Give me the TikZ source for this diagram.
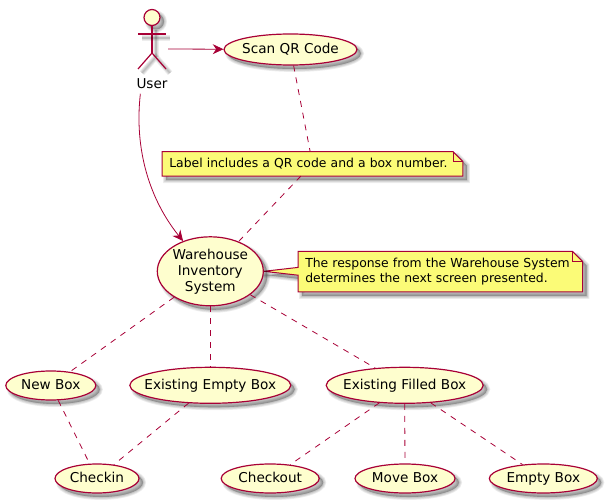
\documentclass[tikz,border=0pt]{standalone}
\usepackage{fontspec}
\setmainfont{DejaVu Sans}
\usetikzlibrary{calc,shapes.geometric,arrows.meta,backgrounds}

\definecolor{umlline}{HTML}{A80036}
\definecolor{umlfill}{HTML}{FEFECE}
\definecolor{notefill}{HTML}{FBFB77}

\tikzset{
  softshadow/.style={
    preaction={draw=black,fill=#1,opacity=.07,line width=4.4pt,transform canvas={shift={(3pt,-3pt)}}},
    preaction={draw=black,fill=#1,opacity=.07,line width=3.2pt,transform canvas={shift={(3pt,-3pt)}}},
    preaction={draw=black,fill=#1,opacity=.07,line width=2pt,transform canvas={shift={(3pt,-3pt)}}},
    preaction={draw=black,fill=#1,opacity=.07,line width=.8pt,transform canvas={shift={(3pt,-3pt)}}}},
  softshadow/.default=black,
  usecase/.style 2 args={ellipse,draw=umlline,fill=umlfill,line width=.9pt,inner sep=0pt,
    minimum width=#1*.75pt,minimum height=#2*.75pt,softshadow},
  uclabel/.style={label={[text height=8pt,text depth=2pt,inner sep=0pt]center:#1}},
  notetext/.style={inner ysep=0pt,inner xsep=5.2pt,font=\fontsize{9.3pt}{11.25pt}\selectfont,align=left,text width=#1*.75pt},
  notebox/.style={draw=umlline,fill=notefill,line width=.75pt,softshadow},
  actorline/.style={draw=umlline,line width=.9pt,softshadow=none},
  assoc/.style={draw=umlline,line width=.6pt,dash pattern=on 4.5pt off 4.5pt},
  link/.style={draw=umlline,line width=.6pt,-{Stealth[length=8pt,width=7.5pt,inset=2.6pt]}}
}

\begin{document}
\begin{tikzpicture}[x=.75pt,y=-.75pt,font=\fontsize{10.2pt}{12pt}\selectfont]
\useasboundingbox (0,0) rectangle (607,503);

% Actor
\node[circle,draw=umlline,fill=umlfill,line width=.9pt,inner sep=0pt,minimum size=12pt,softshadow] (userhead) at (152,17.5) {};
\coordinate (userhip) at (152,53);
\coordinate (userhand) at (168,49);
\draw[actorline] (userhead) -- (userhip);
\draw[actorline] (138,34) -- (166,34);
\draw[actorline] (138,69) -- (userhip) -- (166,69);
\node (user) at (152,84) {User};

% Use cases
\node[usecase={133}{31},uclabel={Scan QR Code}] (scan) at (290.5,49.5) {};
\node[usecase={106}{69},label={[align=center,inner sep=0pt]center:Warehouse\\Inventory\\System}] (warehouse) at (210.3,271.3) {};
\node[usecase={90}{29},uclabel={New Box}] (newbox) at (50.8,385.5) {};
\node[usecase={161}{36},uclabel={Existing Empty Box}] (emptybox) at (210.3,385.3) {};
\node[usecase={157}{36},uclabel={Existing Filled Box}] (filledbox) at (404.7,385.3) {};
\node[usecase={84}{29},uclabel={Checkin}] (checkin) at (97,478.5) {};
\node[usecase={98}{29},uclabel={Checkout}] (checkout) at (270.2,478.5) {};
\node[usecase={100}{29},uclabel={Move Box}] (movebox) at (405,478.5) {};
\node[usecase={108}{29},uclabel={Empty Box}] (discardbox) at (543.3,478.5) {};

% Notes
\node[notetext=286.5,minimum height=18pt] (notelabel) at (312.5,163.8) {Label includes a QR code and a box number.};
\node[notetext=270,minimum height=30pt] (noteresponse) at (440.3,271.7) {The response from the Warehouse System\\determines the next screen presented.};

\begin{scope}[on background layer]
\draw[notebox] (notelabel.south west) -- (notelabel.north west) -- ($(notelabel.north east)+(-10,0)$) -- ($(notelabel.north east)+(0,10)$) -- (notelabel.south east) -- cycle;
\draw[notebox] (noteresponse.south west) -- ($(noteresponse.west)+(0,3.5)$) -- (warehouse.east) -- ($(noteresponse.west)+(0,-4.3)$) -- (noteresponse.north west) -- ($(noteresponse.north east)+(-10,0)$) -- ($(noteresponse.north east)+(0,10)$) -- (noteresponse.south east) -- cycle;
\end{scope}
\draw[draw=umlline,line width=.6pt] ($(notelabel.north east)+(-10,0)$) -- ($(notelabel.north east)+(-10,10)$) -- ($(notelabel.north east)+(0,10)$);
\draw[draw=umlline,line width=.6pt] ($(noteresponse.north east)+(-10,0)$) -- ($(noteresponse.north east)+(-10,10)$) -- ($(noteresponse.north east)+(0,10)$);

% Connectors
\draw[link] (userhand) -- (scan);
\draw[link] (user.220) .. controls (134,150) and (150,200) .. (warehouse.132);
\draw[assoc] (scan) -- (notelabel);
\draw[assoc] (notelabel) -- (warehouse);
\draw[assoc] (warehouse) -- (newbox);
\draw[assoc] (warehouse) -- (emptybox);
\draw[assoc] (warehouse) -- (filledbox);
\draw[assoc] (newbox) -- (checkin);
\draw[assoc] (emptybox) -- (checkin);
\draw[assoc] (filledbox) -- (checkout);
\draw[assoc] (filledbox) -- (movebox);
\draw[assoc] (filledbox) -- (discardbox);
\end{tikzpicture}
\end{document}
